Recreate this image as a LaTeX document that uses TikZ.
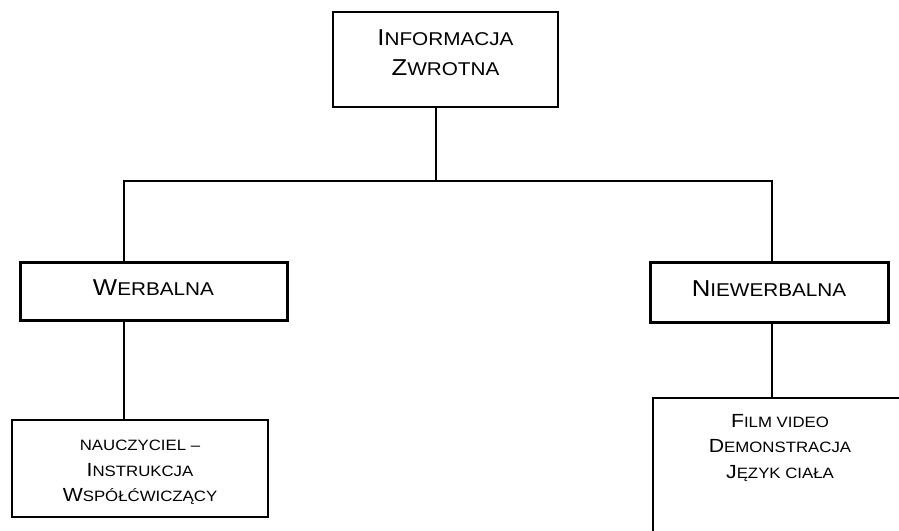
\documentclass[tikz,border=0pt]{standalone}
\usepackage{fontspec}
\setmainfont{Liberation Sans}[FakeStretch=1.12]
\usetikzlibrary{positioning}

% kapitaliki: duza litera + reszta mniejsza
\newcommand{\skbig}{23}
\newcommand{\sksmall}{18.5}
\newcommand{\sk}[2]{{\fontsize{\skbig}{0}\selectfont #1}{\fontsize{\sksmall}{0}\selectfont #2}}

\begin{document}
\begin{tikzpicture}[
	x=1pt, y=-1pt,
	topblock/.style={rectangle, draw, line width=2pt, align=center,
		minimum width=225pt, minimum height=95pt, text depth=14pt,
		font={\fontsize{18.5}{30}\selectfont}},
	midblock/.style={rectangle, draw, line width=3pt, align=center, text depth=6pt,
		font={\fontsize{18.5}{30}\selectfont}},
	lowblock/.style={rectangle, draw, line width=2.2pt, align=center,
		font={\fontsize{15}{25.5}\selectfont\renewcommand{\skbig}{19}\renewcommand{\sksmall}{15}}},
	line/.style={draw, line width=2.2pt},
	]
	\useasboundingbox (0,0) rectangle (899,530);
	\clip (0,0) rectangle (899,530);

	\node[topblock] (inf) at (445.5,59.5) {\sk{I}{NFORMACJA}\\\sk{Z}{WROTNA}};
	\node[midblock, minimum width=267pt, minimum height=58pt] (werb) at (153.5,291) {\sk{W}{ERBALNA}};
	\node[midblock, minimum width=238pt, minimum height=60pt] (niew) at (769,292) {\sk{N}{IEWERBALNA}};
	\node[lowblock, minimum width=256pt, minimum height=97pt] (nauc) at (140,468.5) {};
	\node[lowblock, draw=none, inner sep=0pt, yshift=-4pt] (nauctext) at (nauc.center)
		{\sk{}{NAUCZYCIEL –}\\\sk{I}{NSTRUKCJA}\\\sk{W}{SPÓŁĆWICZĄCY}};
	\node[lowblock, anchor=north, minimum width=254pt, minimum height=200pt] (filmbox) at (780,397) {};
	\node[lowblock, draw=none, anchor=north, inner sep=0pt, below=16pt of filmbox.north] (film)
		{\sk{F}{ILM VIDEO}\\\sk{D}{EMONSTRACJA}\\\sk{J}{ĘZYK CIAŁA}};

	%Połączenia
	\coordinate (bar) at (436,181);
	\path[line] (inf.south -| bar) -- (bar);
	\path[line] ([xshift=-29.5pt]werb.north) |- (bar) -| ([xshift=3pt]niew.north);
	\path[line] ([xshift=-29.5pt]werb.south) -- ([xshift=-29.5pt]werb.south |- nauc.north);
	\path[line] ([xshift=3pt]niew.south) -- ([xshift=3pt]niew.south |- filmbox.north);
\end{tikzpicture}
\end{document}
